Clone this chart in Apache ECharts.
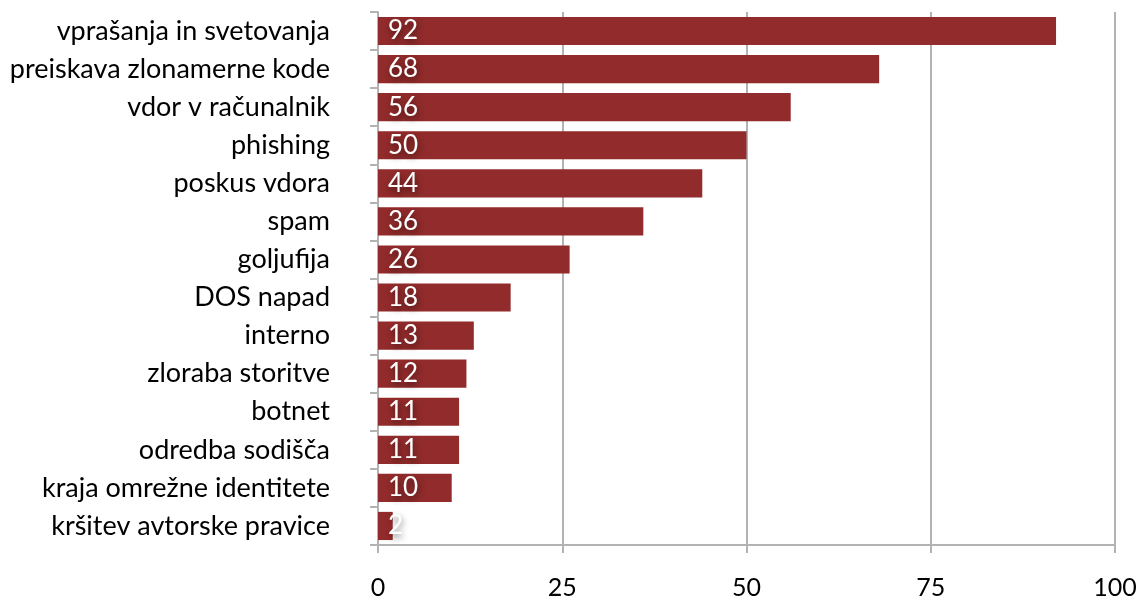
<!DOCTYPE html>
<html>
<head>
<meta charset="utf-8">
<script src="https://cdn.jsdelivr.net/npm/echarts@6/dist/echarts.min.js"></script>
<style>
  html, body { margin: 0; padding: 0; background: #fff; }
  #chart { width: 1137px; height: 602px; }
</style>
</head>
<body>
<div id="chart"></div>
<script>
var categories = [
  "vprašanja in svetovanja",
  "preiskava zlonamerne kode",
  "vdor v računalnik",
  "phishing",
  "poskus vdora",
  "spam",
  "goljufija",
  "DOS napad",
  "interno",
  "zloraba storitve",
  "botnet",
  "odredba sodišča",
  "kraja omrežne identitete",
  "kršitev avtorske pravice"
];
var values = [92, 68, 56, 50, 44, 36, 26, 18, 13, 12, 11, 11, 10, 2];
var xTicks = [0, 25, 50, 75, 100];

var font = "Lato, 'Open Sans', sans-serif";
var chart = echarts.init(document.getElementById("chart"));

chart.setOption({
  animation: false,
  grid: { left: 378, right: 22, top: 12, bottom: 57, outerBoundsMode: "none", containLabel: false },
  xAxis: {
    type: "value",
    min: xTicks[0],
    max: xTicks[xTicks.length - 1],
    interval: 25,
    axisLine: { show: true, lineStyle: { color: "#b3b3b3", width: 2 } },
    axisTick: { show: true, length: 8, lineStyle: { color: "#b3b3b3", width: 2 } },
    splitLine: { show: true, lineStyle: { color: "#b3b3b3", width: 2 } },
    axisLabel: { color: "#000", fontSize: 25, fontFamily: font, margin: 30 }
  },
  yAxis: {
    type: "category",
    data: categories,
    inverse: true,
    axisLine: { show: true, lineStyle: { color: "#b3b3b3", width: 2 } },
    axisTick: { show: true, length: 8, lineStyle: { color: "#b3b3b3", width: 2 } },
    axisLabel: { color: "#000", fontSize: 27, fontFamily: font, margin: 48 }
  },
  series: [{
    type: "bar",
    data: values,
    barCategoryGap: "26%",
    itemStyle: { color: "#922b2b" },
    label: {
      show: true,
      position: "insideLeft",
      distance: 10,
      color: "#fff",
      fontSize: 26,
      fontFamily: font,
      textShadowColor: "rgba(0,0,0,0.55)",
      textShadowBlur: 6,
      textShadowOffsetX: 1,
      textShadowOffsetY: 3
    }
  }]
});
</script>
</body>
</html>
